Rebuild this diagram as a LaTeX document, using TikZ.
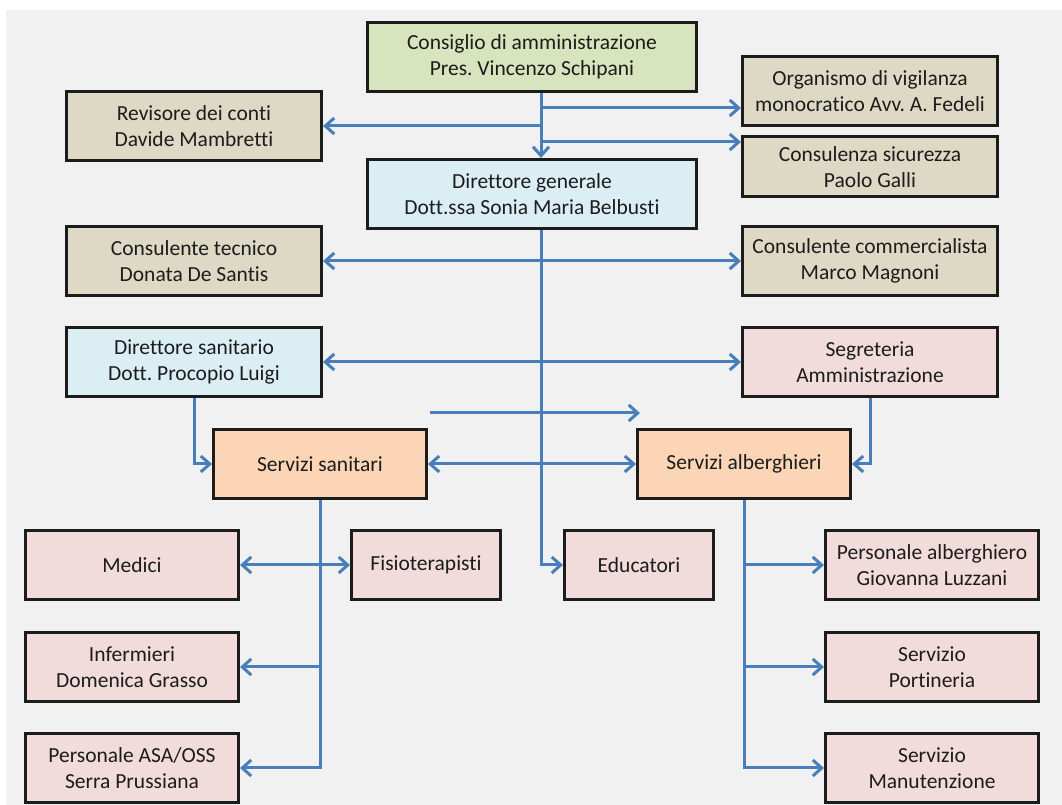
\documentclass[tikz,border=0pt]{standalone}
\usepackage{fontspec}
\setmainfont{Carlito}[Ligatures=NoCommon]
\usepackage{tikz}
\usetikzlibrary{arrows.meta,positioning}

\definecolor{bgpaper}{HTML}{F1F1F1}
\definecolor{boxgreen}{HTML}{D7E4BD}
\definecolor{boxtan}{HTML}{DDD9C4}
\definecolor{boxblue}{HTML}{DBEEF4}
\definecolor{boxpink}{HTML}{F2DCDB}
\definecolor{boxpeach}{HTML}{FBD5B5}
\definecolor{linkblue}{HTML}{4A7EBB}
\definecolor{inkdark}{HTML}{1C1C1C}

\begin{document}
\frenchspacing
\begin{tikzpicture}[x=1pt,y=1pt]
	\tikzstyle{Box}		= [rectangle, draw=inkdark, line width=3pt, text=inkdark, align=center, inner sep=2pt, font=\fontsize{21.5}{26}\selectfont]
	\tikzstyle{Wide}	= [minimum width=329pt, minimum height=69pt]
	\tikzstyle{Side}	= [minimum width=255pt, minimum height=69pt]
	\tikzstyle{Unit}	= [minimum width=213pt, minimum height=69pt]
	\tikzstyle{Small}	= [minimum width=149pt, minimum height=69pt]
	\tikzstyle{Board}	= [fill=boxgreen]
	\tikzstyle{Staff}	= [fill=boxtan]
	\tikzstyle{Head}	= [fill=boxblue]
	\tikzstyle{Office}	= [fill=boxpink]
	\tikzstyle{Service}	= [fill=boxpeach]
	\tikzstyle{Link}	= [draw=linkblue, line width=3pt, arrows={-Straight Barb[length=9pt,width=16pt]}]
	\tikzstyle{Both}	= [Link, arrows={Straight Barb[length=9pt,width=16pt]-Straight Barb[length=9pt,width=16pt]}]

	\useasboundingbox (0,0) rectangle (1062,805);
	\fill [white] (0,0) rectangle (1062,805);
	\fill [bgpaper] (6,0) rectangle (1062,795);

	\node (cda) at (532,748) [Box][Wide][Board] {Consiglio di amministrazione\\Pres. Vincenzo Schipani};
	\node (rev) at (194,679) [Box][Side][Staff] {Revisore dei conti\\Davide Mambretti};
	\node (odv) at (870,714) [Box][Side][Staff] {Organismo di vigilanza\\monocratico Avv. A. Fedeli};
	\node (csic) at (870,638) [Box][Side][Staff, minimum height=60pt] {Consulenza sicurezza\\Paolo Galli};
	\node (dg) at (532,611) [Box][Wide][Head] {Direttore generale\\Dott.ssa Sonia Maria Belbusti};
	\node (ctec) at (194,544) [Box][Side][Staff] {Consulente tecnico\\Donata De Santis};
	\node (ccomm) at (870,544) [Box][Side][Staff] {Consulente commercialista\\Marco Magnoni};
	\node (ds) at (194,443) [Box][Side][Head] {Direttore sanitario\\Dott. Procopio Luigi};
	\node (segr) at (870,443) [Box][Side][Office] {Segreteria\\Amministrazione};
	\node (ssan) at (320,341) [Box][Unit][Service] {Servizi sanitari};
	\node (salb) at (744,341) [Box][Unit][Service] {Servizi alberghieri};
	\node (med) at (132,240) [Box][Unit][Office] {Medici};
	\node (fis) at (426,240) [Box][Small][Office] {Fisioterapisti};
	\node (edu) at (639,240) [Box][Small][Office] {Educatori};
	\node (palb) at (932,240) [Box][Unit][Office] {Personale alberghiero\\Giovanna Luzzani};
	\node (inf) at (132,138) [Box][Unit][Office] {Infermieri\\Domenica Grasso};
	\node (asa) at (132,37) [Box][Unit][Office] {Personale ASA/OSS\\Serra Prussiana};
	\node (port) at (932,138) [Box][Unit][Office] {Servizio\\Portineria};
	\node (man) at (932,37) [Box][Unit][Office] {Servizio\\Manutenzione};

	\coordinate (trunk) at (541,700);
	\coordinate (f1) at (430,392);
	\coordinate (f2) at (640,392);

	% top level
	\draw [Link] (cda.south -| trunk) to (dg.north -| trunk);
	\draw [Link] (trunk |- 0,697) to (odv.west |- 0,697);
	\draw [Link] (trunk |- rev.east) to (rev.east);
	\draw [Link] (trunk |- 0,663) to (csic.west |- 0,663);
	\draw [Link] (dg.south -| trunk) |- (edu.west);

	% consultants and heads
	\draw [Both] (ctec.east) to (ccomm.west);
	\draw [Both] (ds.east) to (segr.west);
	\draw [Link] (f1) to (f2);
	\draw [Both] (ssan.east) to (salb.west);
	\draw [Link] (ds.south) |- (ssan.west);
	\draw [Link] (segr.south) |- (salb.east);

	% health services
	\draw [Link] (ssan.south) |- (asa.east);
	\draw [Link] (ssan.south |- inf.east) to (inf.east);
	\draw [Both] (med.east) to (fis.west);

	% hotel services
	\draw [Link] (salb.south) |- (man.west);
	\draw [Link] (salb.south |- palb.west) to (palb.west);
	\draw [Link] (salb.south |- port.west) to (port.west);
\end{tikzpicture}
\end{document}
